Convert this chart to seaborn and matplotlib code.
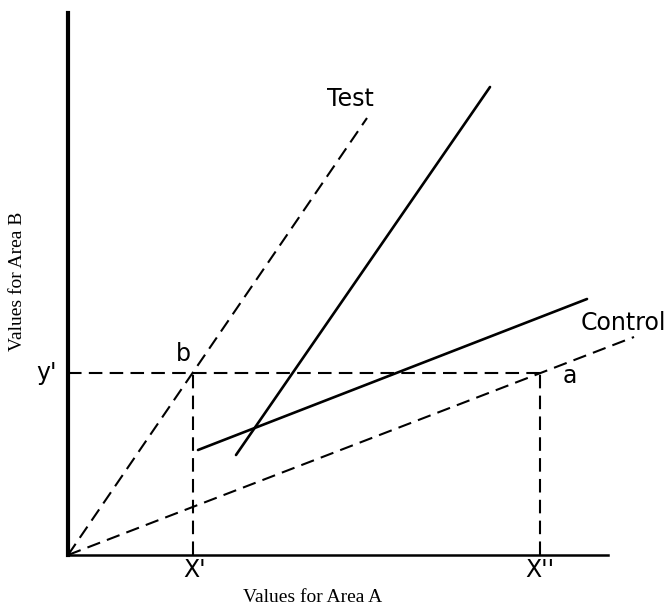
import pandas as pd
import matplotlib.pyplot as plt
import seaborn as sns

# schematic values, arbitrary units (origin at 0,0)
test_x = [0, 299]
test_y = [0, 437]
control_x = [0, 566]
control_y = [0, 218]
steep_x = [168, 422]
steep_y = [100, 468]
shallow_x = [130, 519]
shallow_y = [105, 256]

x_prime = 125
x_dprime = 472
y_prime = 182

sns.set_style("white")
plt.rcParams['font.family'] = ['DejaVu Sans']
plt.rcParams['text.color'] = 'black'

fig = plt.figure(figsize=(6.7, 6.1), dpi=100)
ax = fig.add_axes([68 / 670, 55 / 610, 540 / 670, 542 / 610])

dash = dict(color='black', linewidth=1.5, dashes=(6.5, 3.5), estimator=None, sort=False, ax=ax)
solid = dict(color='black', linewidth=1.9, estimator=None, sort=False, ax=ax)

sns.lineplot(x=test_x, y=test_y, **dash)
sns.lineplot(x=control_x, y=control_y, **dash)
sns.lineplot(x=steep_x, y=steep_y, **solid)
sns.lineplot(x=shallow_x, y=shallow_y, **solid)

# guide lines for b and a
sns.lineplot(x=[0, x_dprime], y=[y_prime, y_prime], **dash)
sns.lineplot(x=[x_prime, x_prime], y=[0, y_prime], **dash)
sns.lineplot(x=[x_dprime, x_dprime], y=[0, y_prime], **dash)

for ln in ax.lines:
    ln.set_clip_on(False)

ax.set_xlim(0, 540)
ax.set_ylim(0, 542)
ax.set_xticks([])
ax.set_yticks([])
ax.spines['top'].set_visible(False)
ax.spines['right'].set_visible(False)
ax.spines['left'].set_linewidth(3)
ax.spines['bottom'].set_linewidth(1.8)
ax.spines['left'].set_color('black')
ax.spines['bottom'].set_color('black')

lab = dict(fontsize=17, color='black', ha='center', va='center', clip_on=False)
ax.text(282, 456, "Test", **lab)
ax.text(555, 232, "Control", **lab)
ax.text(502, 179, "a", **lab)
ax.text(115, 201, "b", **lab)
ax.text(-21, 182, "y'", **lab)
ax.text(127, -15, "X'", **lab)
ax.text(472, -15, "X''", **lab)

serif = dict(fontsize=14, color='black', family='Liberation Serif', ha='center', va='center', clip_on=False)
ax.text(245, -43, "Values for Area A", **serif)
ax.text(-50, 274, "Values for Area B", rotation=90, **serif)

fig.savefig("out.png", dpi=100)
